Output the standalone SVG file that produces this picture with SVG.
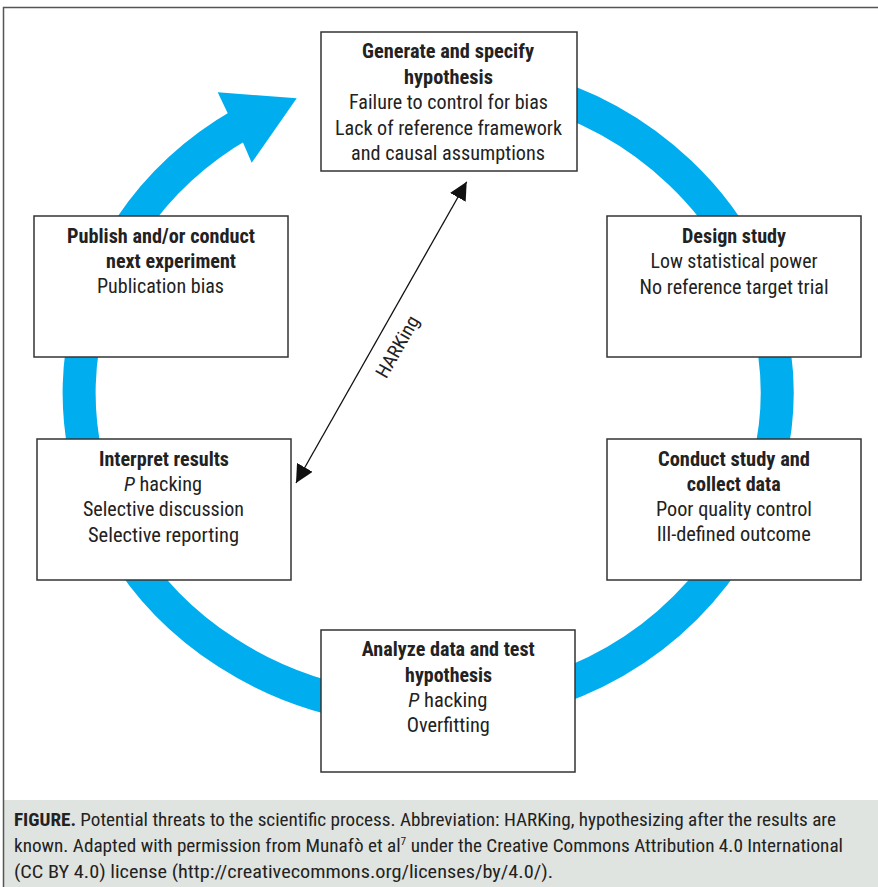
<svg xmlns="http://www.w3.org/2000/svg" width="878" height="887" viewBox="0 0 878 887">
<style>
text{font-family:"Liberation Sans Narrow","Roboto Condensed","Liberation Sans",Arial,sans-serif;font-stretch:condensed;fill:#222;font-size:21px;text-anchor:middle}
.b{font-weight:bold}
.box{fill:#fff;stroke:#333;stroke-width:1.5}
.cap{font-size:18.5px;text-anchor:start}
</style>
<defs>
<marker id="ah" viewBox="0 0 18 18" refX="18" refY="9" markerWidth="18" markerHeight="18" markerUnits="userSpaceOnUse" orient="auto-start-reverse">
<path d="M0,0 L18,9 L0,18 Z" fill="#111"/>
</marker>
</defs>
<rect x="0" y="0" width="878" height="887" fill="#fff"/>
<rect x="3.5" y="800" width="875" height="87" fill="#dfe4e0"/>
<path d="M3.5,887 V7.5 H878" fill="none" stroke="#555" stroke-width="1.5"/>
<g id="connectors">
<path d="M366.4,79.8 A349,318 0 1 1 242.5,123.5" fill="none" stroke="#00aeef" stroke-width="33"/>
<polygon points="227.7,113.3 217.7,92.3 296.7,98.3 251.7,162.7 243.3,143.3" fill="#00aeef"/>
<line x1="296" y1="483" x2="466.7" y2="181.7" stroke="#111" stroke-width="1.3" marker-start="url(#ah)" marker-end="url(#ah)"/>
<text transform="translate(403,350) rotate(-60.4)" style="font-size:19px" textLength="68" lengthAdjust="spacingAndGlyphs">HARKing</text>
</g>
<g id="n-generate">
<rect class="box" x="321" y="32" width="256" height="139"/>
<text class="b" x="448" y="58" textLength="172" lengthAdjust="spacingAndGlyphs">Generate and specify</text>
<text class="b" x="448.5" y="83.5" textLength="89" lengthAdjust="spacingAndGlyphs">hypothesis</text>
<text x="448.5" y="109" textLength="199" lengthAdjust="spacingAndGlyphs">Failure to control for bias</text>
<text x="448.5" y="134.5" textLength="227" lengthAdjust="spacingAndGlyphs">Lack of reference framework</text>
<text x="448" y="160" textLength="194" lengthAdjust="spacingAndGlyphs">and causal assumptions</text>
</g>
<g id="n-design">
<rect class="box" x="607" y="216" width="254" height="141"/>
<text class="b" x="734" y="243" textLength="104" lengthAdjust="spacingAndGlyphs">Design study</text>
<text x="734" y="268" textLength="167" lengthAdjust="spacingAndGlyphs">Low statistical power</text>
<text x="734" y="293.5" textLength="189" lengthAdjust="spacingAndGlyphs">No reference target trial</text>
</g>
<g id="n-conduct">
<rect class="box" x="607" y="439" width="254" height="141"/>
<text class="b" x="734" y="465.5" textLength="152" lengthAdjust="spacingAndGlyphs">Conduct study and</text>
<text class="b" x="733.7" y="490.5" textLength="94" lengthAdjust="spacingAndGlyphs">collect data</text>
<text x="734" y="515.5" textLength="156" lengthAdjust="spacingAndGlyphs">Poor quality control</text>
<text x="733.7" y="541" textLength="154" lengthAdjust="spacingAndGlyphs">Ill-defined outcome</text>
</g>
<g id="n-analyze">
<rect class="box" x="321" y="630" width="254" height="142"/>
<text class="b" x="448.3" y="656" textLength="173" lengthAdjust="spacingAndGlyphs">Analyze data and test</text>
<text class="b" x="448.6" y="681.5" textLength="87" lengthAdjust="spacingAndGlyphs">hypothesis</text>
<text x="447.8" y="707" textLength="79" lengthAdjust="spacingAndGlyphs"><tspan font-style="italic">P</tspan> hacking</text>
<text x="448.3" y="732" textLength="83" lengthAdjust="spacingAndGlyphs">Overfitting</text>
</g>
<g id="n-interpret">
<rect class="box" x="37" y="439" width="254" height="141"/>
<text class="b" x="164" y="465.5" textLength="130" lengthAdjust="spacingAndGlyphs">Interpret results</text>
<text x="163" y="490.5" textLength="78" lengthAdjust="spacingAndGlyphs"><tspan font-style="italic">P</tspan> hacking</text>
<text x="163.5" y="516" textLength="161" lengthAdjust="spacingAndGlyphs">Selective discussion</text>
<text x="163.5" y="541.5" textLength="151" lengthAdjust="spacingAndGlyphs">Selective reporting</text>
</g>
<g id="n-publish">
<rect class="box" x="34" y="216" width="254" height="141"/>
<text class="b" x="161" y="243" textLength="188" lengthAdjust="spacingAndGlyphs">Publish and/or conduct</text>
<text class="b" x="171" y="268" textLength="130" lengthAdjust="spacingAndGlyphs">next experiment</text>
<text x="160.5" y="293" textLength="127" lengthAdjust="spacingAndGlyphs">Publication bias</text>
</g>
<g id="caption">
<text class="cap" x="14" y="826" textLength="822" lengthAdjust="spacingAndGlyphs"><tspan font-weight="bold">FIGURE.</tspan> Potential threats to the scientific process. Abbreviation: HARKing, hypothesizing after the results are</text>
<text class="cap" x="14" y="852" textLength="829" lengthAdjust="spacingAndGlyphs">known. Adapted with permission from Munafò et al<tspan font-size="11" dy="-7">7</tspan><tspan dy="7"> under the Creative Commons Attribution 4.0 International</tspan></text>
<text class="cap" x="14" y="878" textLength="539" lengthAdjust="spacingAndGlyphs">(CC BY 4.0) license (http://creativecommons.org/licenses/by/4.0/).</text>
</g>
</svg>
